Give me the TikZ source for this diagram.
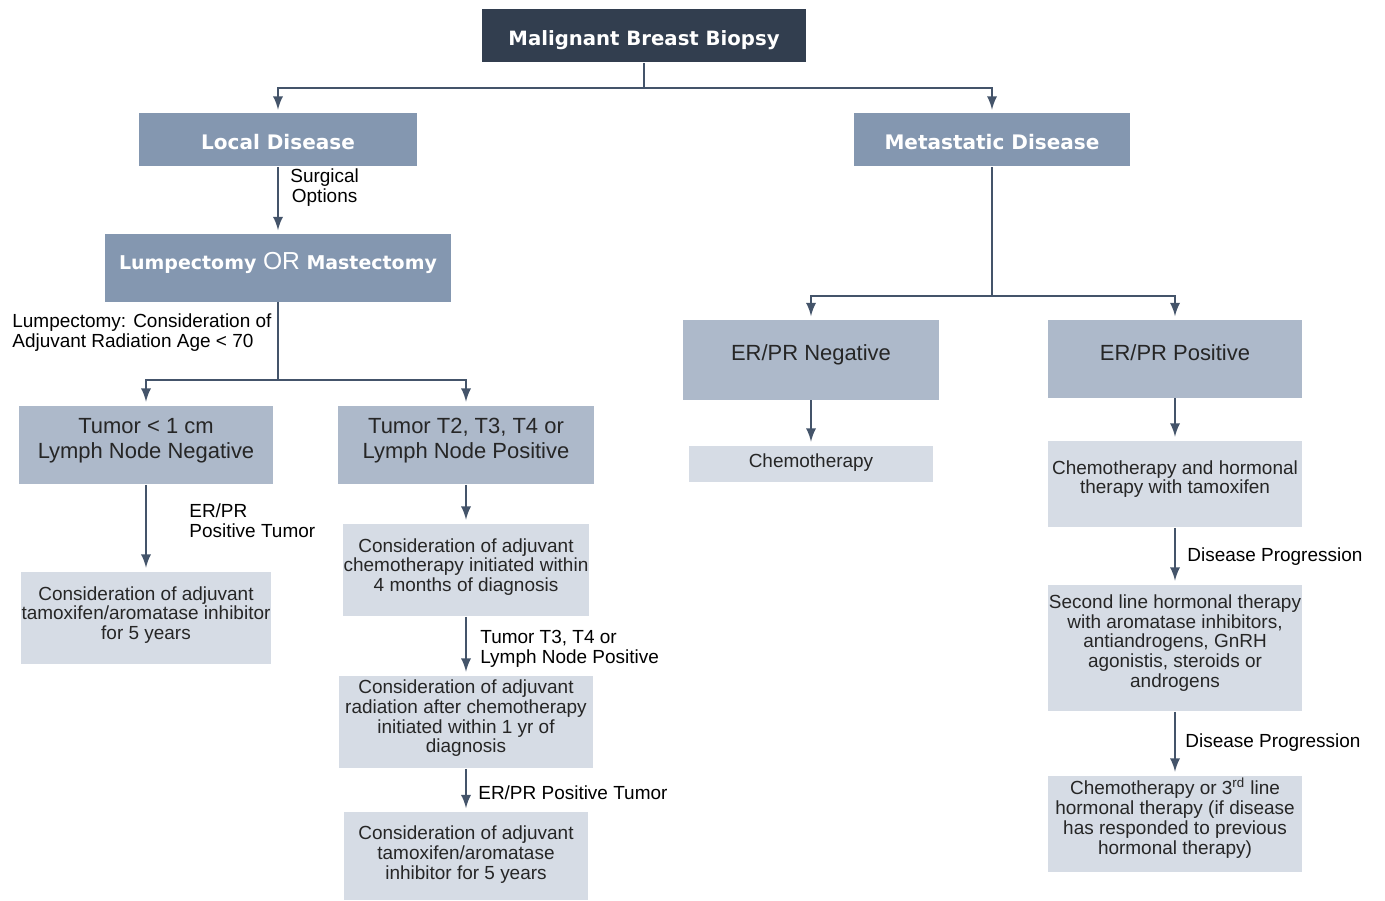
\documentclass[tikz,border=0pt]{standalone}
\usepackage{fontspec}
\setmainfont{Liberation Sans}
\newfontfamily\headfont{DejaVu Sans}
\definecolor{navy}{HTML}{323E4F}
\definecolor{steel}{HTML}{8497B0}
\definecolor{greyblue}{HTML}{ADB9CA}
\definecolor{pale}{HTML}{D6DCE5}
\definecolor{linec}{HTML}{44546A}
\definecolor{ink}{HTML}{262626}
\newcommand\lift[2][2.3pt]{\raisebox{#1}[\height][\depth]{\begin{tabular}{@{}c@{}}#2\end{tabular}}}
\begin{document}
\begin{tikzpicture}[x=0.02cm, y=-0.02cm, >=latex,
  head/.style={fill=steel, text=white, font=\headfont\bfseries\fontsize{11.4}{13}\selectfont, inner sep=0pt},
  greybox/.style={fill=greyblue, text=ink, font=\fontsize{12.5}{14.2}\selectfont, inner sep=0pt},
  palebox/.style={fill=pale, text=ink, font=\fontsize{10.8}{11.3}\selectfont, inner sep=0pt},
  note/.style={text=black, font=\fontsize{10.8}{11.3}\selectfont, align=left, inner sep=0pt, anchor=west},
  wire/.style={draw=linec, line width=1.6pt},
  arr/.style={wire, ->, shorten >=2pt}]

\useasboundingbox (0,0) rectangle (1385,901);

% top
\node[head, fill=navy, font=\headfont\bfseries\fontsize{11.2}{13}\selectfont, minimum width=6.48cm, minimum height=1.06cm] (biopsy) at (644,36) {\lift[-3pt]{Malignant Breast Biopsy}};
\node[head, minimum width=5.56cm, minimum height=1.06cm] (local) at (278,140) {\lift[-2.6pt]{Local Disease}};
\node[head, minimum width=5.54cm, minimum height=1.06cm] (meta) at (992,140) {\lift[-2.6pt]{Metastatic Disease}};
\coordinate (s1) at (644,88);
\draw[wire] (biopsy) -- (s1);
\draw[arr] (s1) -| (local);
\draw[arr] (s1) -| (meta);

% local disease
\node[head, font=\headfont\bfseries\fontsize{10.8}{13}\selectfont, minimum width=6.92cm, minimum height=1.36cm] (lump) at (278,268)
  {\lift{Lumpectomy {\normalfont\fontsize{14}{14}\selectfont OR} Mastectomy}};
\draw[arr] (local) -- (lump);
\node[note, align=center] (surg) at (290,188) {Surgical\\Options};

\coordinate (s2) at (278,380);
\draw[wire] (lump) -- (s2);
\node[note] (lumpnote) at (12,333) {Lumpectomy: Consideration of\\Adjuvant Radiation Age < 70};

\node[greybox, minimum width=5.10cm, minimum height=1.58cm] (small) at (146,445) {\lift{Tumor < 1 cm\\Lymph Node Negative}};
\node[greybox, minimum width=5.14cm, minimum height=1.58cm] (large) at (466,445) {\lift{Tumor T2, T3, T4 or\\Lymph Node Positive}};
\draw[arr] (s2) -| (small);
\draw[arr] (s2) -| (large);

\node[palebox, minimum width=5.0cm, minimum height=1.86cm] (tamleft) at (146,618) {\lift[1.2pt]{Consideration of adjuvant\\tamoxifen/aromatase inhibitor\\for 5 years}};
\draw[arr] (small) -- (tamleft);
\node[note] (erpr1) at (189,521) {ER/PR\\Positive Tumor};

\node[palebox, minimum width=4.94cm, minimum height=1.86cm] (chemadj) at (466,570) {\lift[1.2pt]{Consideration of adjuvant\\chemotherapy initiated within\\4 months of diagnosis}};
\draw[arr] (large) -- (chemadj);

\node[palebox, minimum width=5.10cm, minimum height=1.86cm] (radadj) at (466,722) {\lift[1.6pt]{Consideration of adjuvant\\radiation after chemotherapy\\initiated within 1 yr of\\diagnosis}};
\draw[arr] (chemadj) -- (radadj);
\node[note] (t3note) at (480,649) {Tumor T3, T4 or\\Lymph Node Positive};

\node[palebox, minimum width=4.90cm, minimum height=1.76cm] (tamright) at (466,856) {\lift[0.3pt]{Consideration of adjuvant\\tamoxifen/aromatase\\inhibitor for 5 years}};
\draw[arr] (radadj) -- (tamright);
\node[note] (erpr2) at (478,793) {ER/PR Positive Tumor};

% metastatic disease
\coordinate (s3) at (992,296);
\draw[wire] (meta) -- (s3);
\node[greybox, minimum width=5.12cm, minimum height=1.60cm] (neg) at (811,360) {\lift[2.8pt]{ER/PR Negative}};
\node[greybox, minimum width=5.10cm, minimum height=1.56cm] (pos) at (1175,359) {\lift[1.8pt]{ER/PR Positive}};
\draw[arr] (s3) -| (neg);
\draw[arr] (s3) -| (pos);

\node[palebox, minimum width=4.88cm, minimum height=0.74cm] (chemo) at (811,464) {\lift[0pt]{Chemotherapy}};
\draw[arr] (neg) -- (chemo);

\node[palebox, minimum width=5.08cm, minimum height=1.74cm] (chemhorm) at (1175,484) {\lift{Chemotherapy and hormonal\\therapy with tamoxifen}};
\draw[arr] (pos) -- (chemhorm);

\node[palebox, minimum width=5.08cm, minimum height=2.54cm] (second) at (1175,648) {\lift{Second line hormonal therapy\\with aromatase inhibitors,\\antiandrogens, GnRH\\agonistis, steroids or\\androgens}};
\draw[arr] (chemhorm) -- (second);
\node[note] (prog1) at (1187,557) {Disease Progression};

\node[palebox, minimum width=5.08cm, minimum height=1.94cm] (third) at (1175,824) {\lift[2.8pt]{Chemotherapy or 3\textsuperscript{rd} line\\hormonal therapy (if disease\\has responded to previous\\hormonal therapy)}};
\draw[arr] (second) -- (third);
\node[note] (prog2) at (1185,743) {Disease Progression};

\end{tikzpicture}
\end{document}
